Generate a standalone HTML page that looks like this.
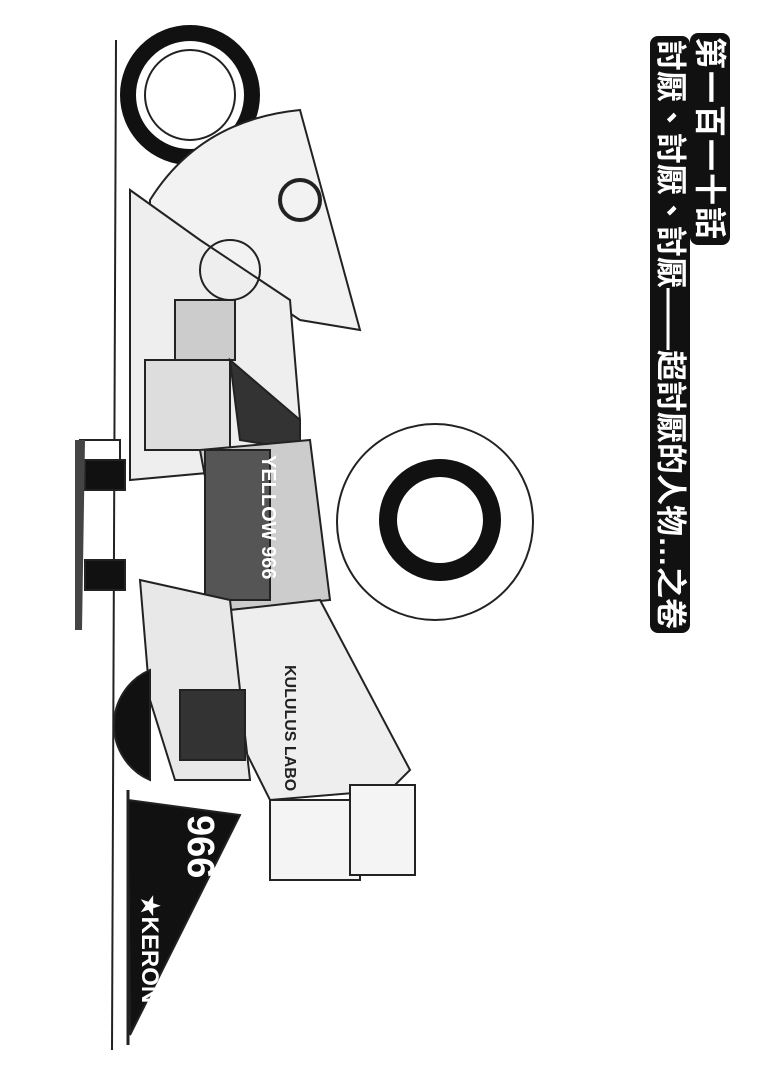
<!DOCTYPE html>
<html><head><meta charset="utf-8"><style>
html,body{margin:0;padding:0;background:#fff;}
#w{position:relative;width:767px;height:1078px;overflow:hidden;background:#fff;}
.t{position:absolute;transform-origin:0 0;transform:rotate(90deg);white-space:nowrap;font-family:"Liberation Sans","Noto Sans CJK TC",sans-serif;font-weight:bold;color:#fff;background:#111;border-radius:8px;padding:1px 4px;}
</style></head><body><div id="w">
<svg width="767" height="1078" style="position:absolute;left:0;top:0" fill="none" stroke="#222" stroke-width="2">
<line x1="116" y1="40" x2="112" y2="1050" stroke-width="2"/>
<circle cx="190" cy="95" r="62" stroke="#111" stroke-width="16"/>
<circle cx="190" cy="95" r="45" fill="#fff"/>
<path d="M150 200 Q200 120 300 110 L360 330 L300 320 L270 300 L200 340 L150 330 Z" fill="#f2f2f2"/>
<path d="M130 190 L130 480 L240 470 L300 420 L290 300 L200 240 Z" fill="#eee"/>
<circle cx="300" cy="200" r="20" stroke-width="4"/>
<circle cx="230" cy="270" r="30"/>
<rect x="175" y="300" width="60" height="60" fill="#ccc"/>
<rect x="145" y="360" width="85" height="90" fill="#ddd"/>
<path d="M230 360 L300 420 L300 450 L240 440 Z" fill="#333"/>
<circle cx="435" cy="522" r="98" fill="#fff"/>
<circle cx="440" cy="520" r="52" stroke="#111" stroke-width="18"/>
<path d="M200 450 L310 440 L330 600 L230 610 Z" fill="#ccc"/>
<path d="M205 450 L270 450 L270 600 L205 600 Z" fill="#555"/>
<text x="0" y="0" transform="translate(262 455) rotate(90)" font-family="Liberation Sans" font-weight="bold" font-size="20" fill="#fff" stroke="none">YELLOW 966</text>
<path d="M80 440 L120 440 L120 490 L80 490 Z" fill="#fff"/>
<rect x="85" y="460" width="40" height="30" fill="#111"/>
<rect x="85" y="560" width="40" height="30" fill="#111"/>
<path d="M75 440 L85 440 L82 630 L75 630 Z" fill="#444" stroke="none"/>
<path d="M230 610 L320 600 L410 770 L390 790 L270 800 L240 740 Z" fill="#eee"/>
<text x="0" y="0" transform="translate(285 665) rotate(90)" font-family="Liberation Sans" font-weight="bold" font-size="16" fill="#222" stroke="none">KULULUS LABO</text>
<path d="M140 580 L230 600 L250 780 L175 780 L150 700 Z" fill="#e8e8e8"/>
<rect x="180" y="690" width="65" height="70" fill="#333"/>
<path d="M150 670 A60 60 0 0 0 150 780 Z" fill="#111"/>
<rect x="270" y="800" width="90" height="80" fill="#f4f4f4"/>
<rect x="350" y="785" width="65" height="90" fill="#f4f4f4"/>
<path d="M128 800 L240 815 L130 1035 Z" fill="#111"/>
<text x="0" y="0" transform="translate(188 815) rotate(90)" font-family="Liberation Sans" font-weight="bold" font-size="38" fill="#fff" stroke="none">966</text>
<text x="0" y="0" transform="translate(142 895) rotate(90)" font-family="Liberation Sans" font-weight="bold" font-size="24" fill="#fff" stroke="none">★KERON</text>
<line x1="128" y1="790" x2="128" y2="1045" stroke-width="3"/>
</svg>
<div class="t" style="left:730px;top:33px;font-size:32px;line-height:38px;letter-spacing:2px;">第一百一十話</div>
<div class="t" style="left:690px;top:36px;font-size:31px;line-height:38px;letter-spacing:0px;">討厭、討厭、討厭——超討厭的人物…之卷</div>
</div></body></html>
